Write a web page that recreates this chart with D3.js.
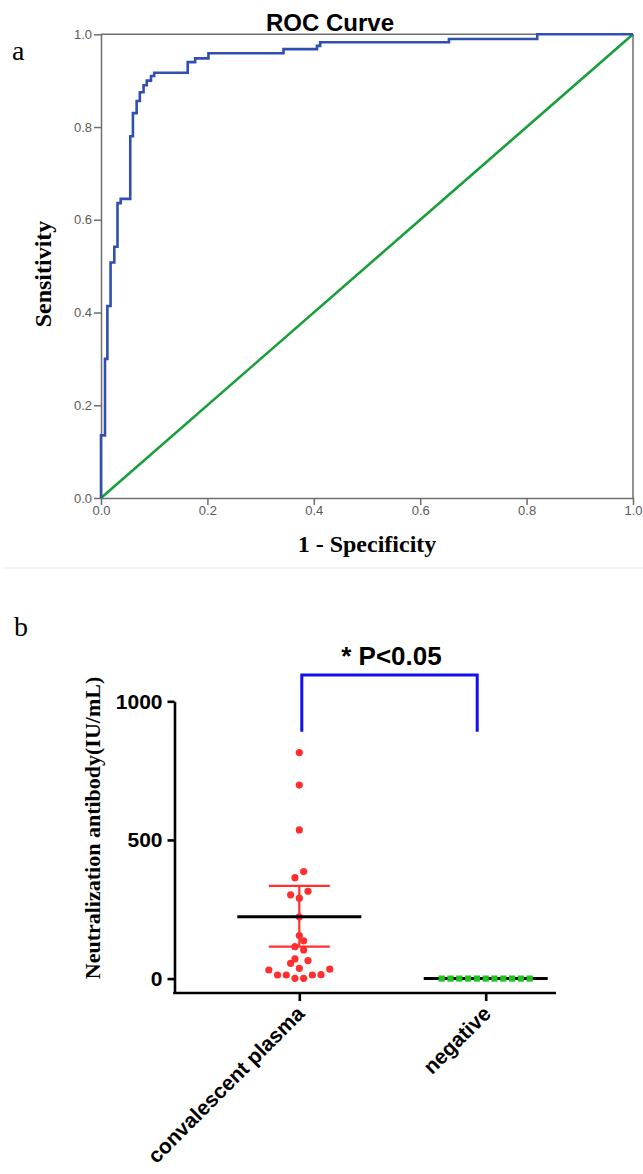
<!DOCTYPE html>
<html><head><meta charset="utf-8">
<script src="https://cdn.jsdelivr.net/npm/d3@7"></script>
<style>html,body{margin:0;padding:0;background:#fff;} svg{display:block;}</style>
</head><body>
<svg id="chart" width="643" height="1174"></svg>
<script>
// ---------- Panel a: ROC curve data ----------
const rocFpr = [0, 0.0075, 0.012, 0.018, 0.025, 0.031, 0.037, 0.055, 0.060, 0.067, 0.073, 0.080, 0.086, 0.094, 0.100, 0.163, 0.177, 0.202, 0.343, 0.406, 0.412, 0.654, 0.820, 1.0];
const rocTpr = [0, 0.135, 0.300, 0.414, 0.508, 0.542, 0.636, 0.645, 0.780, 0.830, 0.856, 0.875, 0.890, 0.900, 0.910, 0.917, 0.940, 0.948, 0.959, 0.968, 0.975, 0.983, 0.990, 1.0];
const refFpr = [0, 1];
const refTpr = [0, 1];
const rocTicks = [0, 0.2, 0.4, 0.6, 0.8, 1.0];
const rocTitle = "ROC Curve";
const rocXLabel = "1 - Specificity";
const rocYLabel = "Sensitivity";

// ---------- Panel b: scatter data ----------
const categories = ["convalescent plasma", "negative"];
const plasmaValues = [815, 698, 536, 386, 364, 315, 302, 290, 223, 155, 136, 115, 103, 71, 65, 55, 37, 34, 31, 14, 13, 13, 13, 1, 1];
const negativeValues = [0, 0, 0, 0, 0, 0, 0, 0, 0, 0, 0];
const meanValues = [223, 0];
const errLow = [115, null];
const errHigh = [334, null];
const yTicksB = [0, 500, 1000];
const bracketRange = [890, 1095];
const pLabel = "* P<0.05";
const yLabelB = "Neutralization antibody(IU/mL)";

const svg = d3.select("#chart");
const SANS = "'Liberation Sans', Arial, sans-serif";
const SERIF = "'Liberation Serif', 'Times New Roman', serif";

// ================= Panel a =================
const A = {left: 101, right: 633, top: 34.3, bottom: 498};
const xa = d3.scaleLinear().domain([0, 1]).range([A.left, A.right]);
const ya = d3.scaleLinear().domain([0, 1]).range([A.bottom, A.top]);
const gA = svg.append("g");
const axisCol = "#6e6e6e";

gA.append("line").attr("x1", xa(0)).attr("x2", xa(1)).attr("y1", ya(1)).attr("y2", ya(1))
  .attr("stroke", axisCol).attr("stroke-width", 1.5);
gA.append("line").attr("x1", xa(1)).attr("x2", xa(1)).attr("y1", ya(1)).attr("y2", ya(0))
  .attr("stroke", axisCol).attr("stroke-width", 1.5);

const fmt = d3.format(".1f");
const xAxisA = gA.append("g").attr("transform", `translate(0,${A.bottom})`)
  .call(d3.axisBottom(xa).tickValues(rocTicks).tickFormat(fmt).tickSize(7).tickSizeOuter(0).tickPadding(1));
const yAxisA = gA.append("g").attr("transform", `translate(${A.left},0)`)
  .call(d3.axisLeft(ya).tickValues(rocTicks).tickFormat(fmt).tickSize(7).tickSizeOuter(0).tickPadding(2));
[xAxisA, yAxisA].forEach(g => {
  g.selectAll("path,line").attr("stroke", axisCol).attr("stroke-width", 1.5);
  g.selectAll("text").attr("fill", "#5a5a5a").style("font-family", SANS).style("font-size", "13px");
});

const refData = refFpr.map((d, i) => [d, refTpr[i]]);
gA.append("path").datum(refData)
  .attr("d", d3.line().x(d => xa(d[0])).y(d => ya(d[1])))
  .attr("fill", "none").attr("stroke", "#1a9e3c").attr("stroke-width", 2.6);

const rocData = rocFpr.map((d, i) => [d, rocTpr[i]]);
gA.append("path").datum(rocData)
  .attr("d", d3.line().x(d => xa(d[0])).y(d => ya(d[1])).curve(d3.curveStepBefore))
  .attr("fill", "none").attr("stroke", "#2f4fb3").attr("stroke-width", 2.6);

gA.append("text").attr("x", 330).attr("y", 31).attr("text-anchor", "middle")
  .style("font-family", SANS).style("font-weight", "bold").style("font-size", "24px").text(rocTitle);
gA.append("text").attr("x", 367).attr("y", 552).attr("text-anchor", "middle")
  .style("font-family", SERIF).style("font-weight", "bold").style("font-size", "24px").text(rocXLabel);
gA.append("text").attr("transform", "translate(51,274) rotate(-90)").attr("text-anchor", "middle")
  .style("font-family", SERIF).style("font-weight", "bold").style("font-size", "24px").text(rocYLabel);
gA.append("text").attr("x", 12).attr("y", 60)
  .style("font-family", SERIF).style("font-size", "28px").text("a");

svg.append("line").attr("x1", 5).attr("x2", 643).attr("y1", 568).attr("y2", 568)
  .attr("stroke", "#ececec").attr("stroke-width", 1.5);

// ================= Panel b =================
const B = {axisX: 174.5, axisY: 993, xEnd: 556};
const yb = d3.scaleLinear().domain([-52, 1000]).range([B.axisY, 701.3]);
const xb = d3.scalePoint().domain(categories).range([299.3, 485.7]);
const gB = svg.append("g");

svg.append("text").attr("x", 14).attr("y", 636)
  .style("font-family", SERIF).style("font-size", "28px").text("b");

function swarm(values, yScale, rowH) {
  const idx = values.map((v, i) => i).sort((a, b) => values[a] - values[b]);
  const out = new Array(values.length);
  let i = 0;
  while (i < idx.length) {
    const y0 = yScale(values[idx[i]]);
    let j = i;
    while (j < idx.length && Math.abs(y0 - yScale(values[idx[j]])) <= rowH) j++;
    const row = idx.slice(i, j);
    const n = row.length;
    const slots = d3.range(n).map(k => k - (n - 1) / 2).sort((a, b) => Math.abs(a) - Math.abs(b) || a - b);
    row.forEach((id, k) => out[id] = slots[k]);
    i = j;
  }
  return out;
}
const spacing = 8.7;

const yAxisB = gB.append("g").attr("transform", `translate(${B.axisX},0)`)
  .call(d3.axisLeft(yb).tickValues(yTicksB).tickFormat(d3.format("d")).tickSize(7).tickSizeOuter(0).tickPadding(5));
yAxisB.selectAll("path,line").attr("stroke", "#000").attr("stroke-width", 2.6);
yAxisB.selectAll("text").attr("fill", "#000").style("font-family", SANS)
  .style("font-weight", "bold").style("font-size", "21px");

gB.append("line").attr("x1", B.axisX - 1.3).attr("x2", B.xEnd).attr("y1", B.axisY).attr("y2", B.axisY)
  .attr("stroke", "#000").attr("stroke-width", 2.6);
const xAxisB = gB.append("g").attr("transform", `translate(0,${B.axisY})`)
  .call(d3.axisBottom(xb).tickSize(8).tickSizeOuter(0));
xAxisB.select(".domain").remove();
xAxisB.selectAll("line").attr("stroke", "#000").attr("stroke-width", 2.6);
xAxisB.selectAll("text")
  .attr("transform", "translate(6,22) rotate(-45)")
  .attr("x", 0).attr("y", 0).attr("dy", 0)
  .attr("text-anchor", "end").attr("fill", "#000")
  .style("font-family", SANS).style("font-weight", "bold").style("font-size", "21px");

const offP = swarm(plasmaValues, yb, 9.2);
gB.append("g").selectAll("circle").data(plasmaValues).join("circle")
  .attr("cx", (d, i) => xb(categories[0]) + offP[i] * spacing)
  .attr("cy", d => yb(d)).attr("r", 3.6).attr("fill", "#ff2f2f");

const offN = swarm(negativeValues, yb, 9.2);
const sq = 6.2;

const eb = gB.append("g").attr("stroke", "#ff3030").attr("stroke-width", 2.2);
categories.forEach((c, i) => {
  if (errLow[i] == null) return;
  const cx = xb(c);
  eb.append("line").attr("x1", cx).attr("x2", cx).attr("y1", yb(errLow[i])).attr("y2", yb(errHigh[i]));
  [errLow[i], errHigh[i]].forEach(v => eb.append("line").attr("x1", cx - 30.5).attr("x2", cx + 30.5)
    .attr("y1", yb(v)).attr("y2", yb(v)));
});

gB.append("g").selectAll("line").data(meanValues).join("line")
  .attr("x1", (d, i) => xb(categories[i]) - 62).attr("x2", (d, i) => xb(categories[i]) + 62)
  .attr("y1", d => yb(d)).attr("y2", d => yb(d))
  .attr("stroke", "#000").attr("stroke-width", 3);

gB.append("g").selectAll("rect").data(negativeValues).join("rect")
  .attr("x", (d, i) => xb(categories[1]) + offN[i] * 8.8 - sq / 2)
  .attr("y", d => yb(d) - sq / 2).attr("width", sq).attr("height", sq).attr("fill", "#1fc41f");

const bx1 = xb(categories[0]) + 2.5, bx2 = xb(categories[1]) - 8.5;
gB.append("path")
  .attr("d", `M${bx1},${yb(bracketRange[0])}V${yb(bracketRange[1])}H${bx2}V${yb(bracketRange[0])}`)
  .attr("fill", "none").attr("stroke", "#1010f0").attr("stroke-width", 3);
gB.append("text").attr("x", (bx1 + bx2) / 2 + 2).attr("y", 665).attr("text-anchor", "middle")
  .style("font-family", SANS).style("font-weight", "bold").style("font-size", "26px").text(pLabel);

gB.append("text").attr("transform", "translate(100,828) rotate(-90)").attr("text-anchor", "middle")
  .style("font-family", SERIF).style("font-weight", "bold").style("font-size", "22px").text(yLabelB);
</script>
</body></html>
